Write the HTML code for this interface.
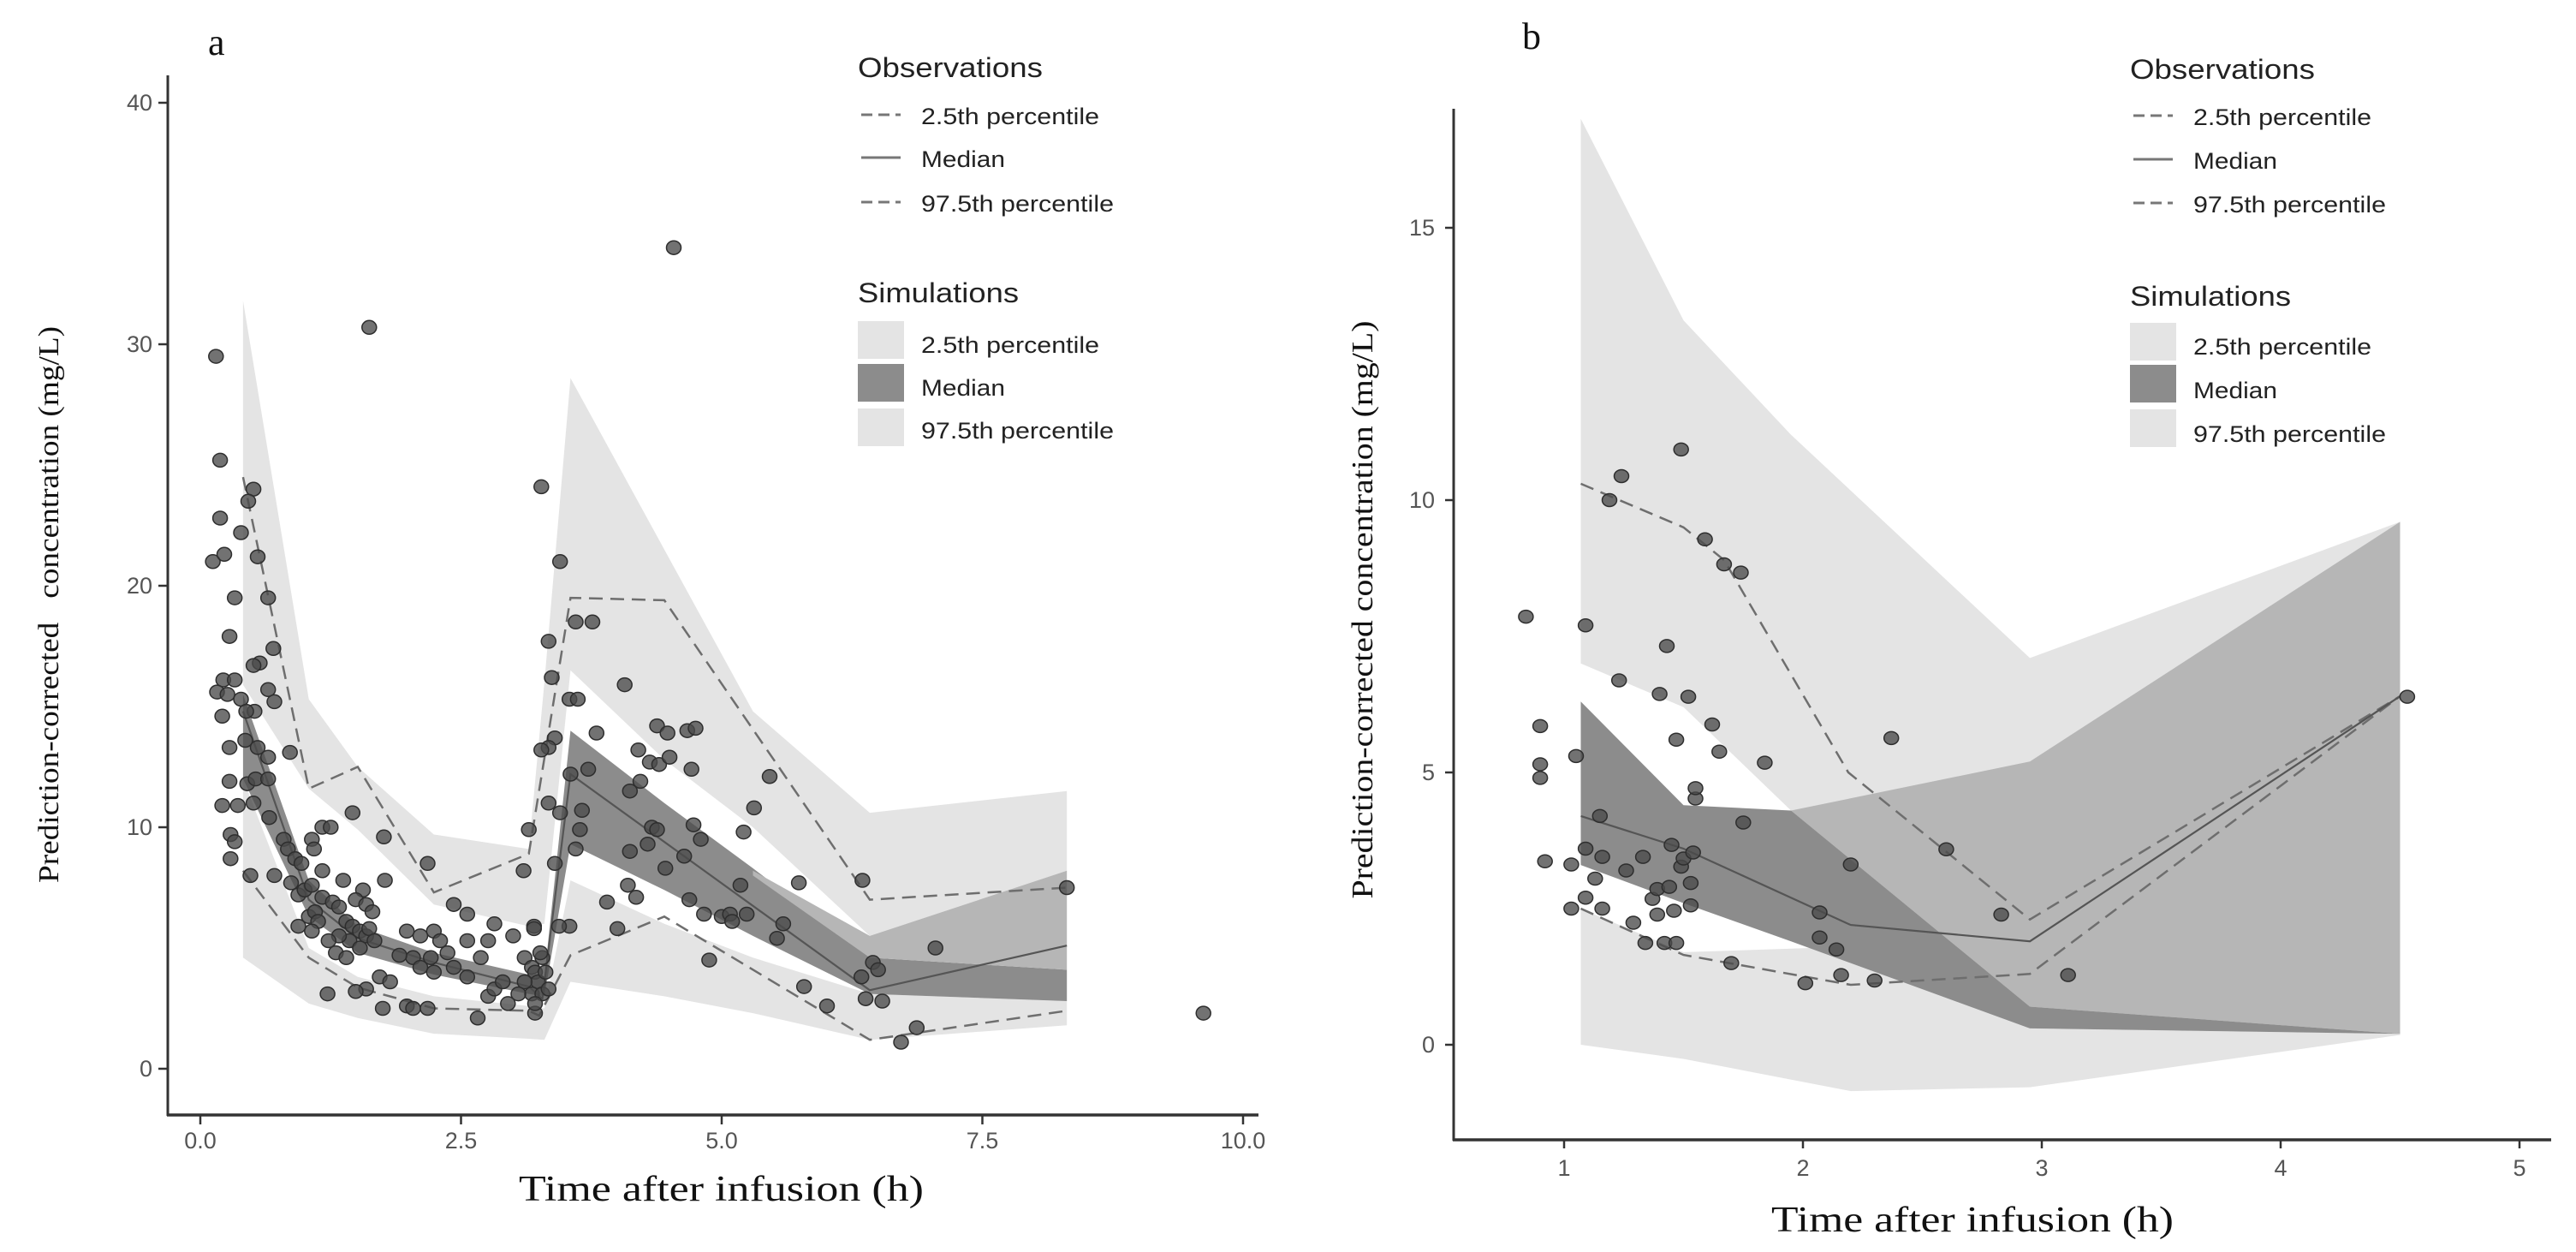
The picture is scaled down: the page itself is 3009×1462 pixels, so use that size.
<!DOCTYPE html>
<html><head><meta charset="utf-8"><title>VPC plots</title>
<style>html,body{margin:0;padding:0;background:#fff}svg{display:block}</style></head>
<body>
<svg id="chart" width="3009" height="1462" viewBox="0 0 3009 1462" xmlns="http://www.w3.org/2000/svg">
<rect width="3009" height="1462" fill="#fff"/>
<g id="pa"></g>
<g id="pb"></g>
</svg>
<script>
// ---------- Panel A data ----------
const aBinT  = [0.41,1.04,1.51,2.24,3.15,3.3,3.55,4.45,5.3,6.42,8.31];
const aHiTop = [31.8,15.3,12.5,9.7,9.1,16,28.6,21.5,14.8,10.6,11.5];
const aHiBot = [15.9,11.6,9.9,6.8,5.9,6.0,16.5,12.8,10.0,5.5,8.2];
const aMdTop = [15.5,7.8,5.9,4.8,3.9,3.8,14.0,11.0,8.3,4.6,4.1];
const aMdBot = [12.0,6.3,4.8,3.9,3.1,3.0,9.3,7.4,5.5,3.1,2.8];
const aLoTop = [12.0,5.0,3.8,3.0,2.6,2.5,7.8,6.0,4.6,3.1,2.8];
const aLoBot = [4.6,2.7,2.1,1.45,1.24,1.2,3.6,3.0,2.3,1.2,1.8];
const aOvT   = [5.3,6.42,8.31];
const aOvTop = [8.2,5.5,8.2];
const aOvBot = [8.0,4.6,4.1];
const aObsLoT = [0.41,1.04,1.51,2.24,3.15,3.25,3.55,4.45,6.42,8.31];
const aObsLoV = [8.2,4.6,3.36,2.5,2.4,2.2,4.7,6.3,1.2,2.4];
const aObsHiT = [0.41,1.04,1.51,2.24,3.15,3.55,4.45,6.42,8.31];
const aObsHiV = [24.5,11.6,12.5,7.3,8.9,19.5,19.4,7.0,7.5];
const aObsMdT = [0.41,1.04,1.51,2.24,3.15,3.28,3.55,6.42,8.31];
const aObsMdV = [14.8,7.0,5.4,4.4,3.4,2.9,12.2,3.25,5.1];
const aXTicks = [0,2.5,5,7.5,10];
const aXTickLabels = ["0.0","2.5","5.0","7.5","10.0"];
const aYTicks = [0,10,20,30,40];
const aPoints = [[0.15,29.5],[1.62,30.7],[4.54,34.0],[0.19,25.2],[0.51,24.0],[0.46,23.5],[0.19,22.8],[0.39,22.2],[0.12,21.0],[0.23,21.3],[0.55,21.2],[0.33,19.5],[0.65,19.5],[0.28,17.9],[0.70,17.4],[0.57,16.8],[0.51,16.7],[0.22,16.1],[0.33,16.1],[0.16,15.6],[0.26,15.5],[0.39,15.3],[0.21,14.6],[0.52,14.8],[0.44,14.8],[0.65,15.7],[0.71,15.2],[0.28,13.3],[0.43,13.6],[0.55,13.3],[0.65,12.9],[0.86,13.1],[0.28,11.9],[0.45,11.8],[0.53,12.0],[0.65,12.0],[0.21,10.9],[0.36,10.9],[0.51,11.0],[0.66,10.4],[0.29,9.7],[0.33,9.4],[0.29,8.7],[0.48,8.0],[0.71,8.0],[1.46,10.6],[1.17,10.0],[1.25,10.0],[1.07,9.5],[1.09,9.1],[1.76,9.6],[0.80,9.5],[0.84,9.1],[0.91,8.7],[0.97,8.5],[0.87,7.7],[0.94,7.2],[1.0,7.4],[1.07,7.6],[1.04,6.3],[1.10,6.5],[1.17,7.1],[1.27,6.9],[1.33,6.7],[1.37,7.8],[1.56,7.4],[1.49,7.0],[1.59,6.8],[1.65,6.5],[1.40,6.1],[1.46,5.9],[1.53,5.7],[1.59,5.5],[1.43,5.3],[1.33,5.5],[1.23,5.3],[1.30,4.8],[1.40,4.6],[1.53,5.0],[1.62,5.8],[1.67,5.3],[1.13,6.1],[1.07,5.7],[0.94,5.9],[1.17,8.2],[2.18,8.5],[1.77,7.8],[1.98,5.7],[2.11,5.5],[2.24,5.7],[2.30,5.3],[2.43,6.8],[2.56,6.4],[2.56,5.3],[2.37,4.8],[2.21,4.6],[2.04,4.6],[1.91,4.7],[2.11,4.2],[2.24,4.0],[2.43,4.2],[2.56,3.8],[2.69,4.6],[2.82,6.0],[2.76,5.3],[3.00,5.5],[3.10,8.2],[3.15,9.9],[3.20,5.9],[1.72,3.8],[1.82,3.6],[1.59,3.3],[1.49,3.2],[1.22,3.1],[1.75,2.5],[1.98,2.6],[2.04,2.5],[2.18,2.5],[2.66,2.1],[2.76,3.0],[2.82,3.3],[2.90,3.6],[2.95,2.7],[3.21,2.3],[3.11,4.6],[3.18,4.2],[3.21,4.0],[3.24,3.6],[3.18,3.1],[3.28,3.1],[3.21,2.7],[3.11,3.6],[3.31,4.0],[3.28,4.6],[3.05,3.1],[3.34,3.3],[3.26,4.8],[3.27,24.1],[3.45,21.0],[3.34,17.7],[3.60,18.5],[3.76,18.5],[3.37,16.2],[3.54,15.3],[3.62,15.3],[4.07,15.9],[3.40,13.7],[3.34,13.3],[3.27,13.2],[3.80,13.9],[4.38,14.2],[4.48,13.9],[4.67,14.0],[4.75,14.1],[4.20,13.2],[4.31,12.7],[4.40,12.6],[4.50,12.9],[4.71,12.4],[4.12,11.5],[4.22,11.9],[3.55,12.2],[3.72,12.4],[3.66,10.7],[3.34,11.0],[3.45,10.6],[3.64,9.9],[4.33,10.0],[4.38,9.9],[4.73,10.1],[4.80,9.5],[4.12,9.0],[4.29,9.3],[4.46,8.3],[4.64,8.8],[3.60,9.1],[3.40,8.5],[4.10,7.6],[4.18,7.1],[3.90,6.9],[4.00,5.8],[4.69,7.0],[4.83,6.4],[5.00,6.3],[4.88,4.5],[3.54,5.9],[3.44,5.9],[3.20,5.8],[5.46,12.1],[5.31,10.8],[5.21,9.8],[5.18,7.6],[5.74,7.7],[6.35,7.8],[8.31,7.5],[5.08,6.4],[5.24,6.4],[5.10,6.1],[5.59,6.0],[5.53,5.4],[5.79,3.4],[6.01,2.6],[7.05,5.0],[6.45,4.4],[6.50,4.1],[6.34,3.8],[6.38,2.9],[6.54,2.8],[6.87,1.7],[6.72,1.1],[9.62,2.3]];

// ---------- Panel B data ----------
const bHiT   = [1.07,1.5,1.95,2.95,4.5];
const bHiTop = [17.0,13.3,11.2,7.1,9.6];
const bHiBot = [7.0,6.2,4.3,0.7,0.2];
const bMedT  = [1.95,2.95,4.5];
const bMedTop= [4.3,5.2,9.6];
const bMedBot= [4.3,0.7,0.2];
const bMdT   = [1.07,1.5,1.95,2.95,4.5];
const bMdTop = [6.3,4.4,4.3,0.7,0.2];
const bMdBot = [3.3,2.6,1.9,0.3,0.2];
const bLoT   = [1.07,1.5,2.2,2.95,4.5];
const bLoTop = [2.5,1.7,1.8,0.3,0.2];
const bLoBot = [0,-0.26,-0.85,-0.78,0.18];
const bObsHiT = [1.07,1.5,1.67,2.19,2.95,4.5];
const bObsHiV = [10.3,9.5,8.9,5.0,2.3,6.4];
const bObsMdT = [1.07,1.5,2.2,2.95,4.5];
const bObsMdV = [4.2,3.6,2.2,1.9,6.4];
const bObsLoT = [1.07,1.5,2.2,2.95,4.5];
const bObsLoV = [2.5,1.65,1.1,1.3,6.4];
const bXTicks = [1,2,3,4,5];
const bYTicks = [0,5,10,15];
const bPoints = [[0.84,7.86],[1.09,7.7],[0.90,5.85],[0.90,5.15],[0.90,4.9],[1.05,5.3],[0.92,3.37],[1.03,3.31],[1.09,3.6],[1.15,4.2],[1.09,2.7],[1.13,3.05],[1.03,2.5],[1.16,2.5],[1.16,3.45],[1.26,3.2],[1.33,3.45],[1.29,2.24],[1.34,1.87],[1.37,2.68],[1.39,2.86],[1.39,2.39],[1.42,1.87],[1.45,3.67],[1.44,2.9],[1.46,2.46],[1.47,1.87],[1.49,3.27],[1.50,3.42],[1.54,3.53],[1.53,2.97],[1.53,2.56],[1.55,4.52],[1.55,4.71],[1.19,10.0],[1.24,10.44],[1.49,10.93],[1.59,9.28],[1.67,8.82],[1.74,8.67],[1.23,6.69],[1.40,6.44],[1.43,7.32],[1.52,6.39],[1.47,5.6],[1.62,5.88],[1.65,5.38],[1.84,5.18],[1.75,4.08],[2.37,5.63],[2.60,3.59],[2.20,3.31],[2.07,2.43],[2.07,1.97],[2.14,1.75],[2.16,1.28],[2.01,1.13],[1.70,1.5],[2.30,1.18],[2.83,2.39],[3.11,1.28],[4.53,6.39]];

const NS = "http://www.w3.org/2000/svg";
function mk(parent, tag, attrs, name) {
  const el = document.createElementNS(NS, tag);
  for (const k in attrs) el.setAttribute(k, attrs[k]);
  
  
  parent.appendChild(el);
  return el;
}
function txt(parent, x, y, s, style, name, len) {
  const t = mk(parent, 'text', Object.assign({x: x, y: y}, style), name);
  if (len) { t.setAttribute('textLength', len); t.setAttribute('lengthAdjust', 'spacingAndGlyphs'); }
  t.textContent = s;
  return t;
}
function bandPath(xs, tops, bots, sx, sy) {
  let d = '';
  xs.forEach((x, i) => { d += (i ? 'L' : 'M') + sx(x).toFixed(1) + ',' + sy(tops[i]).toFixed(1); });
  for (let i = xs.length - 1; i >= 0; i--) d += 'L' + sx(xs[i]).toFixed(1) + ',' + sy(bots[i]).toFixed(1);
  return d + 'Z';
}
function linePts(xs, vs, sx, sy) { return xs.map((x, i) => sx(x).toFixed(1) + ',' + sy(vs[i]).toFixed(1)).join(' '); }

const LIGHT = '#e4e4e4', DARK = '#8c8c8c', MED = '#b6b6b6';
const SANS = '"Liberation Sans", Arial, sans-serif', SERIF = '"Liberation Serif", "Times New Roman", serif';

function legend(g, x0, yb) {
  // yb: baselines [obsTitle, e1, e2, e3, simTitle, s1, s2, s3]; box tops
  txt(g, x0, yb.title1, 'Observations', {'font-family': SANS, 'font-size': 32, fill: '#222'}, 'legend-title-observations', 216);
  const labs = ['2.5th percentile', 'Median', '97.5th percentile'];
  const lens = [208, 98, 225];
  labs.forEach((l, i) => {
    const y = yb.obs[i];
    const ln = mk(g, 'line', {x1: x0 + 4, x2: x0 + 50, y1: y - 11, y2: y - 11, stroke: '#777', 'stroke-width': 3}, 'legend-obs-line-' + i);
    if (i !== 1) ln.setAttribute('stroke-dasharray', '13 7');
    txt(g, x0 + 74, y, l, {'font-family': SANS, 'font-size': 27, fill: '#222'}, 'legend-obs-label-' + i, lens[i]);
  });
  txt(g, x0, yb.title2, 'Simulations', {'font-family': SANS, 'font-size': 32, fill: '#222'}, 'legend-title-simulations', 188);
  labs.forEach((l, i) => {
    const y = yb.sim[i];
    mk(g, 'rect', {x: x0, y: yb.box[i], width: 54, height: 44, fill: i === 1 ? DARK : LIGHT}, 'legend-sim-box-' + i);
    txt(g, x0 + 74, y, l, {'font-family': SANS, 'font-size': 27, fill: '#222'}, 'legend-sim-label-' + i, lens[i]);
  });
}

function drawPoints(g, pts, sx, sy, rx, ry, name) {
  pts.forEach((p, i) => {
    const c = mk(g, 'ellipse', {cx: sx(p[0]).toFixed(1), cy: sy(p[1]).toFixed(1), rx: rx, ry: ry, fill: '#4a4a4a', 'fill-opacity': 0.78, stroke: '#2e2e2e', 'stroke-width': 1.5}, name);
  });
}

// ---------- Panel A ----------
(function () {
  const g = document.getElementById('pa');
  const sx = t => 234 + t * 121.8;
  const sy = v => 1248 - v * 28.2;
  mk(g, 'path', {d: bandPath(aBinT, aHiTop, aHiBot, sx, sy), fill: LIGHT}, 'sim-97-5-band');
  mk(g, 'path', {d: bandPath(aBinT, aLoTop, aLoBot, sx, sy), fill: LIGHT}, 'sim-2-5-band');
  mk(g, 'path', {d: bandPath(aBinT, aMdTop, aMdBot, sx, sy), fill: DARK}, 'sim-median-band');
  mk(g, 'path', {d: bandPath(aOvT, aOvTop, aOvBot, sx, sy), fill: MED}, 'sim-overlap-band');
  mk(g, 'polyline', {points: linePts(aObsLoT, aObsLoV, sx, sy), fill: 'none', stroke: '#6e6e6e', 'stroke-width': 2.5, 'stroke-dasharray': '16 9'}, 'obs-2-5-line');
  mk(g, 'polyline', {points: linePts(aObsHiT, aObsHiV, sx, sy), fill: 'none', stroke: '#6e6e6e', 'stroke-width': 2.5, 'stroke-dasharray': '16 9'}, 'obs-97-5-line');
  mk(g, 'polyline', {points: linePts(aObsMdT, aObsMdV, sx, sy), fill: 'none', stroke: '#555', 'stroke-width': 2.2}, 'obs-median-line');
  drawPoints(g, aPoints, sx, sy, 8.5, 8, 'observation-point');
  // axes
  mk(g, 'line', {x1: 196, x2: 196, y1: 88, y2: 1303, stroke: '#333', 'stroke-width': 3}, 'y-axis-line');
  mk(g, 'line', {x1: 195, x2: 1470, y1: 1302, y2: 1302, stroke: '#333', 'stroke-width': 3.5}, 'x-axis-line');
  aYTicks.forEach(v => {
    mk(g, 'line', {x1: 185, x2: 196, y1: sy(v), y2: sy(v), stroke: '#333', 'stroke-width': 2.5}, 'y-tick');
    txt(g, 178, sy(v) + 9, String(v), {'font-family': SANS, 'font-size': 27, fill: '#555', 'text-anchor': 'end'}, 'y-tick-label');
  });
  aXTicks.forEach((t, i) => {
    mk(g, 'line', {x1: sx(t), x2: sx(t), y1: 1302, y2: 1313, stroke: '#333', 'stroke-width': 2.5}, 'x-tick');
    txt(g, sx(t), 1341, aXTickLabels[i], {'font-family': SANS, 'font-size': 27, fill: '#555', 'text-anchor': 'middle'}, 'x-tick-label');
  });
  txt(g, 606, 1402, 'Time after infusion (h)', {'font-family': SERIF, 'font-size': 42, fill: '#111'}, 'x-axis-title', 473);
  const yt = txt(g, 0, 0, 'Prediction-corrected   concentration (mg/L)', {'font-family': SERIF, 'font-size': 34, fill: '#111', 'text-anchor': 'middle', transform: 'translate(68,706) rotate(-90)', 'xml:space': 'preserve'}, 'y-axis-title', 650);
  yt.style.whiteSpace = 'pre';
  txt(g, 243, 64, 'a', {'font-family': SERIF, 'font-size': 44, fill: '#111'}, 'panel-label-a');
  legend(g, 1002, {title1: 90, obs: [145, 195, 247], title2: 353, sim: [412, 462, 512], box: [375, 425, 477]});
})();

// ---------- Panel B ----------
(function () {
  const g = document.getElementById('pb');
  const sx = t => 1827 + (t - 1) * 279;
  const sy = v => 1220 - v * 63.6;
  mk(g, 'path', {d: bandPath(bHiT, bHiTop, bHiBot, sx, sy), fill: LIGHT}, 'sim-97-5-band');
  mk(g, 'path', {d: bandPath(bLoT, bLoTop, bLoBot, sx, sy), fill: LIGHT}, 'sim-2-5-band');
  mk(g, 'path', {d: bandPath(bMedT, bMedTop, bMedBot, sx, sy), fill: MED}, 'sim-overlap-band');
  mk(g, 'path', {d: bandPath(bMdT, bMdTop, bMdBot, sx, sy), fill: DARK}, 'sim-median-band');
  mk(g, 'polyline', {points: linePts(bObsHiT, bObsHiV, sx, sy), fill: 'none', stroke: '#6e6e6e', 'stroke-width': 2.5, 'stroke-dasharray': '16 9'}, 'obs-97-5-line');
  mk(g, 'polyline', {points: linePts(bObsLoT, bObsLoV, sx, sy), fill: 'none', stroke: '#6e6e6e', 'stroke-width': 2.5, 'stroke-dasharray': '16 9'}, 'obs-2-5-line');
  mk(g, 'polyline', {points: linePts(bObsMdT, bObsMdV, sx, sy), fill: 'none', stroke: '#555', 'stroke-width': 2.2}, 'obs-median-line');
  drawPoints(g, bPoints, sx, sy, 8.5, 7.5, 'observation-point');
  mk(g, 'line', {x1: 1698, x2: 1698, y1: 127, y2: 1332, stroke: '#333', 'stroke-width': 3}, 'y-axis-line');
  mk(g, 'line', {x1: 1697, x2: 2980, y1: 1331, y2: 1331, stroke: '#333', 'stroke-width': 3.5}, 'x-axis-line');
  bYTicks.forEach(v => {
    mk(g, 'line', {x1: 1688, x2: 1698, y1: sy(v), y2: sy(v), stroke: '#333', 'stroke-width': 2.5}, 'y-tick');
    txt(g, 1676, sy(v) + 9, String(v), {'font-family': SANS, 'font-size': 27, fill: '#555', 'text-anchor': 'end'}, 'y-tick-label');
  });
  bXTicks.forEach(t => {
    mk(g, 'line', {x1: sx(t), x2: sx(t), y1: 1331, y2: 1341, stroke: '#333', 'stroke-width': 2.5}, 'x-tick');
    txt(g, sx(t), 1373, String(t), {'font-family': SANS, 'font-size': 27, fill: '#555', 'text-anchor': 'middle'}, 'x-tick-label');
  });
  txt(g, 2069, 1438, 'Time after infusion (h)', {'font-family': SERIF, 'font-size': 42, fill: '#111'}, 'x-axis-title', 470);
  txt(g, 0, 0, 'Prediction-corrected concentration (mg/L)', {'font-family': SERIF, 'font-size': 35, fill: '#111', 'text-anchor': 'middle', transform: 'translate(1603,712) rotate(-90)'}, 'y-axis-title', 675);
  txt(g, 1778, 57, 'b', {'font-family': SERIF, 'font-size': 44, fill: '#111'}, 'panel-label-b');
  legend(g, 2488, {title1: 92, obs: [146, 197, 248], title2: 357, sim: [414, 465, 516], box: [377, 426, 478]});
})();
</script>
</body></html>
